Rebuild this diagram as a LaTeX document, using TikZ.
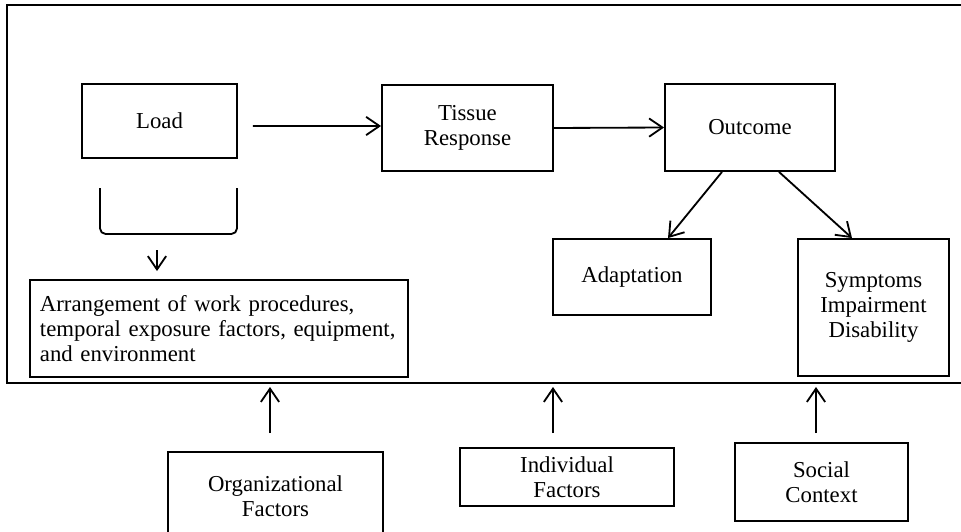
\documentclass[tikz,border=0pt]{standalone}
\usepackage{fontspec}
\setmainfont{Liberation Serif}
\usepackage{tikz}
\usetikzlibrary{arrows.meta}
\usetikzlibrary{positioning}

\begin{document}
\begin{tikzpicture}[x=0.025cm,y=-0.025cm]
  \tikzset{box/.style = {shape=rectangle,draw,line width=1.3pt,inner sep=2pt,align=center,font=\fontsize{16.2}{18}\selectfont}}
  \tikzset{tipV/.tip={Straight Barb[length=9.5pt,width=13pt]}}
  \tikzset{edge/.style = {-tipV,line width=1.3pt}}

  \useasboundingbox (0,0) rectangle (961,532);

	% frame
	\draw[line width=1.3pt] (961,5) -| (7,383) -- (961,383);
	\coordinate (fb) at (7,383);

	\node[box,minimum width=3.875cm,minimum height=1.85cm] (load) at (159.5,121) {Load};
	\node[box,minimum width=4.275cm,minimum height=2.15cm] (tissue) at (467.5,128) {Tissue\\Response};
	\node[box,minimum width=4.25cm,minimum height=2.175cm] (outcome) at (750,127.5) {Outcome};
	\node[box,minimum width=3.95cm,minimum height=1.9cm] (adapt) at (632,277) {Adaptation};
	\node[box,minimum width=3.775cm,minimum height=3.425cm] (sympt) at (873.5,307.5) {Symptoms\\Impairment\\Disability};
	\node[box,minimum height=2.425cm,text width=8.95cm,inner xsep=0.25cm,align=left] (arrange) at (219,328.5)
	  {Arrangement of work procedures,\\temporal exposure factors, equipment,\\and environment};
	\node[box,minimum width=5.375cm,minimum height=2.2cm] (org) at (275.5,496) {Organizational\\Factors};
	\node[box,minimum width=5.35cm,minimum height=1.45cm] (indiv) at (567,477) {Individual\\Factors};
	\node[box,minimum width=4.325cm,minimum height=1.95cm] (social) at (821.5,482) {Social\\Context};

	% bracket under Load
	\draw[line width=1.3pt,rounded corners=4pt] (100,188) -- (100,234) -- (237,234) -- (237,188);
	\coordinate (brk) at (157,234);

	\path[edge] ([shift={(0.375cm,-0.125cm)}]load.east) edge ([yshift=0.05cm]tissue.west);
	\path[edge] (tissue.east) edge (outcome.west);
	\path[edge] ([xshift=-0.7cm]outcome.south) edge ([xshift=0.9cm]adapt.north);
	\path[edge] ([xshift=0.725cm]outcome.south) edge ([xshift=-0.5375cm]sympt.north);
	\path[edge,shorten <=0.4cm,shorten >=0.2cm] (brk) edge (brk |- arrange.north);

	\foreach \from/\dx/\gap in {org/-0.1375/0.45, indiv/-0.35/0.35, social/-0.1375/0.225}
	\path[edge,shorten <=\gap cm,shorten >=0.1cm] ([xshift=\dx cm]\from.north) edge ([xshift=\dx cm]\from.north |- fb);

\end{tikzpicture}
\end{document}
